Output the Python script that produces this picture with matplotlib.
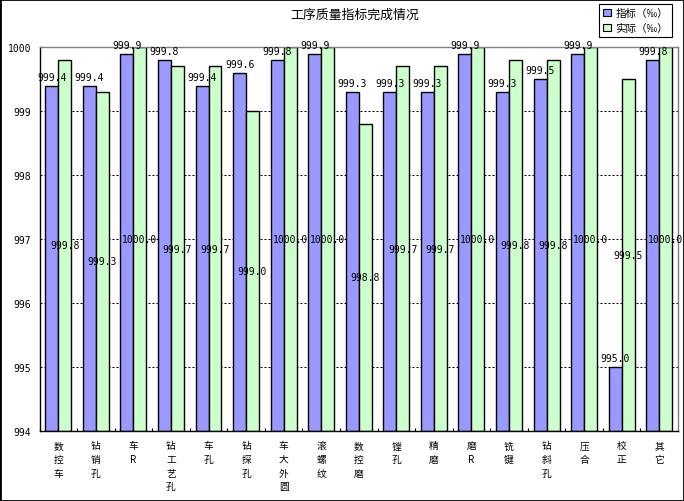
import matplotlib
matplotlib.use("Agg")
import matplotlib.pyplot as plt
from matplotlib.patches import Patch, Rectangle
import numpy as np

categories = ["数控车", "钻销孔", "车R", "钻工艺孔", "车孔", "钻探孔", "车大外圆", "滚螺纹",
              "数控磨", "镗孔", "精磨", "磨R", "铣键", "钻斜孔", "压合", "校正", "其它"]
target = [999.4, 999.4, 999.9, 999.8, 999.4, 999.6, 999.8, 999.9,
          999.3, 999.3, 999.3, 999.9, 999.3, 999.5, 999.9, 995.0, 999.8]
actual = [999.8, 999.3, 1000.0, 999.7, 999.7, 999.0, 1000.0, 1000.0,
          998.8, 999.7, 999.7, 1000.0, 999.8, 999.8, 1000.0, 999.5, 1000.0]
series_names = ["指标（‰）", "实际（‰）"]
yticks = [994, 995, 996, 997, 998, 999, 1000]
title = "工序质量指标完成情况"

CJK = ["Noto Sans CJK SC", "DejaVu Sans"]
MONO = "DejaVu Sans Mono"
BLUE = "#9999FF"
GREEN = "#CCFFCC"

W, H = 684, 502
fig = plt.figure(figsize=(W / 100, H / 100), dpi=100)
left, right, bottom, top = 39.5, 678.0, 431.7, 48.3
ax = fig.add_axes([left / W, 1 - bottom / H, (right - left) / W, (bottom - top) / H])

ymin = yticks[0]
x = np.arange(len(categories))
w = 0.345
b1 = ax.bar(x - w / 2, np.array(target) - ymin, w, bottom=ymin, color=BLUE,
            edgecolor="black", linewidth=1.0, zorder=2)
b2 = ax.bar(x + w / 2, np.array(actual) - ymin, w, bottom=ymin, color=GREEN,
            edgecolor="black", linewidth=1.0, zorder=2)

# labels
for xi, v in zip(x, target):
    ax.annotate(f"{v:.1f}", (xi - w / 2, v), xytext=(0, 4.3), textcoords="offset points",
                ha="center", va="baseline", fontsize=7, family=MONO, zorder=5,
                annotation_clip=False)
for xi, v in zip(x, actual):
    ax.text(xi + w / 2, (v + ymin) / 2, f"{v:.1f}", ha="center", va="center",
            fontsize=7, family=MONO, zorder=5)

ax.set_xlim(-0.5, len(categories) - 0.5)
ax.set_ylim(yticks[0], yticks[-1])
ax.set_yticks(yticks)
ax.set_yticklabels([str(t) for t in yticks], family=MONO, fontsize=7)
ax.tick_params(axis="y", length=0, pad=6)

ax.set_xticks(x)
ax.set_xticklabels(["\n".join(list(c)) for c in categories], family=CJK, fontsize=7,
                   linespacing=1.45, va="top")
ax.tick_params(axis="x", which="major", length=0, pad=7)
ax.set_xticks(np.arange(len(categories) + 1) - 0.5, minor=True)
ax.tick_params(axis="x", which="minor", direction="in", length=2.5, width=0.8, color="black")

ax.yaxis.grid(True, color="black", linestyle=(0, (2, 2)), linewidth=0.72)
ax.set_axisbelow(True)

for s in ["left", "bottom"]:
    ax.spines[s].set_color("black")
    ax.spines[s].set_linewidth(1.0)
for s in ["top", "right"]:
    ax.spines[s].set_color("#808080")
    ax.spines[s].set_linewidth(1.0)

fig.text(354.5 / W, 1 - 15 / H, title, ha="center", va="center", fontsize=9.3, family=CJK)

handles = [Patch(facecolor=BLUE, edgecolor="black", linewidth=0.8),
           Patch(facecolor=GREEN, edgecolor="black", linewidth=0.8)]
leg = fig.legend(handles, series_names, loc="upper left",
                 bbox_to_anchor=(599 / W, 1 - 5 / H), frameon=True, fancybox=False,
                 edgecolor="black", framealpha=1, prop={"family": CJK, "size": 7.6},
                 handlelength=0.75, handleheight=0.75, handletextpad=0.4,
                 borderpad=0.4, labelspacing=0.45, borderaxespad=0)
leg.get_frame().set_linewidth(0.8)

fig.patches.append(Rectangle((0, 0), 1, 1, transform=fig.transFigure, fill=False,
                             edgecolor="black", linewidth=2.0))

fig.savefig("out.png", dpi=100)
